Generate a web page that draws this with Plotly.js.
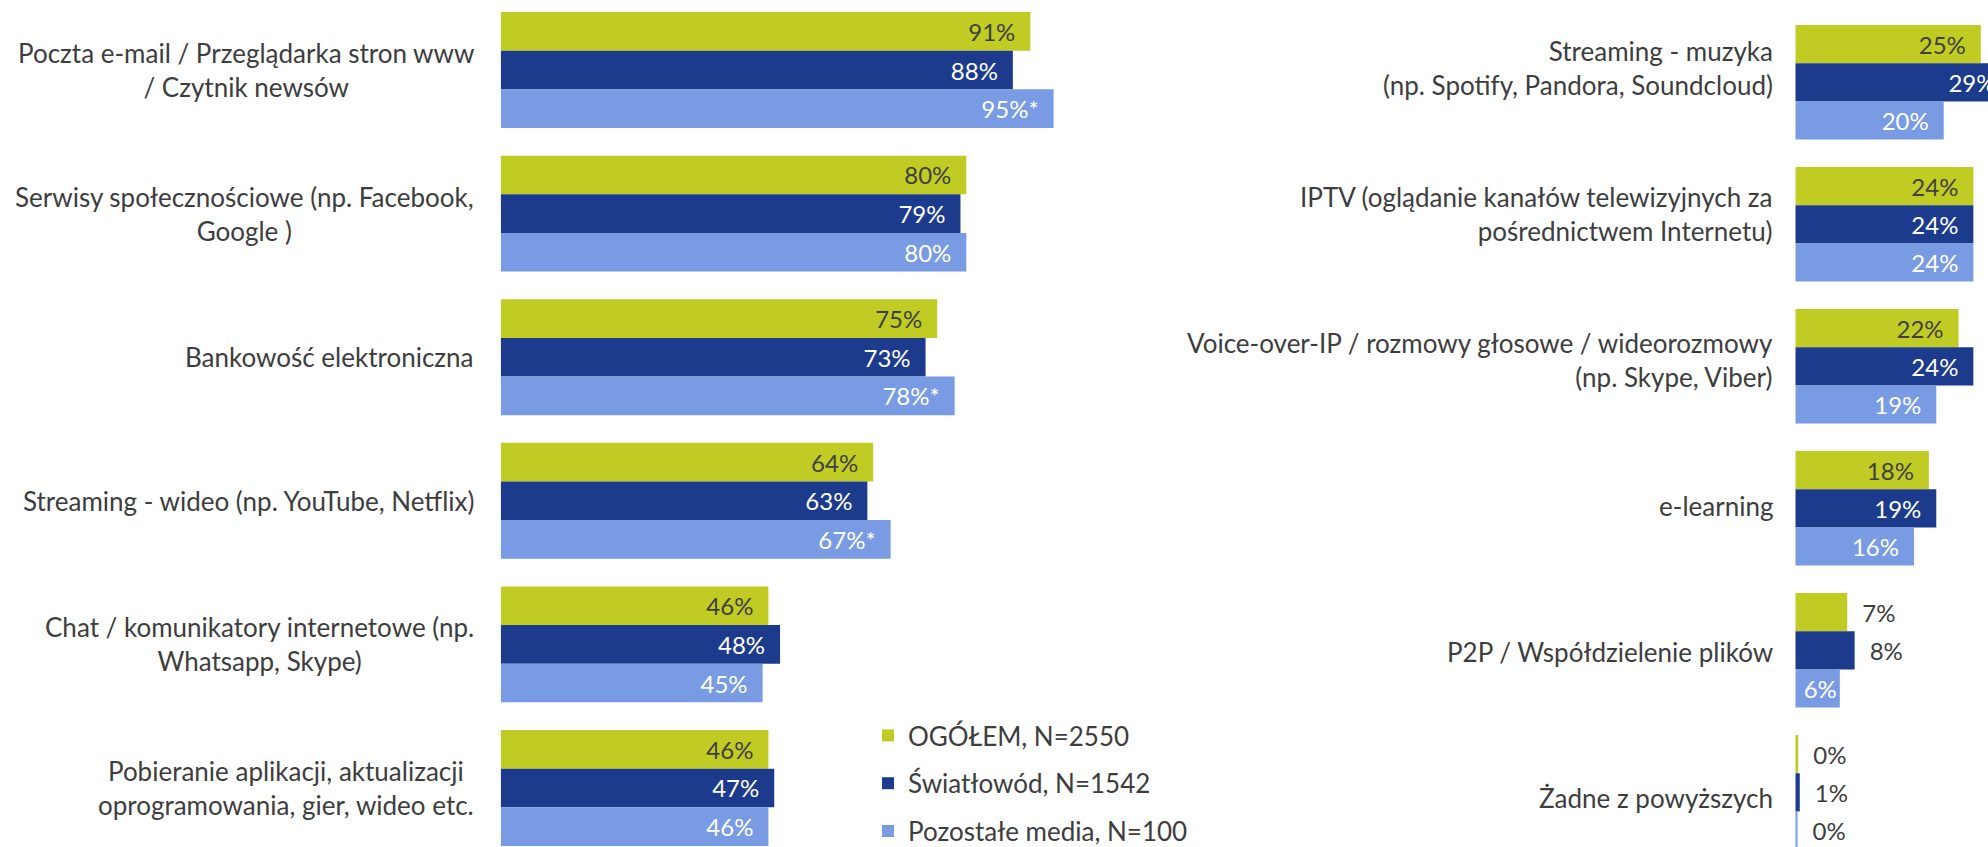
<!DOCTYPE html>
<html>
<head>
<meta charset="utf-8">
<script src="https://cdn.plot.ly/plotly-3.0.1.min.js"></script>
<style>
  html, body { margin: 0; padding: 0; background: #ffffff; overflow: hidden; }
  #chart { width: 2040px; height: 847px; }
</style>
</head>
<body>
<div id="chart"></div>
<script>
// ---------- DATA ----------
const seriesNames = ["OGÓŁEM, N=2550", "Światłowód, N=1542", "Pozostałe media, N=100"];

const leftCategories = [
  "Poczta e-mail / Przeglądarka stron www<br>/ Czytnik newsów",
  "Serwisy społecznościowe (np. Facebook,<br>Google )",
  "Bankowość elektroniczna",
  "Streaming - wideo (np. YouTube, Netflix)",
  "Chat / komunikatory internetowe (np.<br>Whatsapp, Skype)",
  "Pobieranie aplikacji, aktualizacji<br>oprogramowania, gier, wideo etc."
];
const leftOgolem     = [91, 80, 75, 64, 46, 46];
const leftSwiatlowod = [88, 79, 73, 63, 48, 47];
const leftPozostale  = [95, 80, 78, 67, 45, 46];
const leftPozostaleSignificant = [true, false, true, true, false, false];

const rightCategories = [
  "Streaming - muzyka<br>(np. Spotify, Pandora, Soundcloud)",
  "IPTV (oglądanie kanałów telewizyjnych za<br>pośrednictwem Internetu)",
  "Voice-over-IP / rozmowy głosowe / wideorozmowy<br>(np. Skype, Viber)",
  "e-learning",
  "P2P / Współdzielenie plików",
  "Żadne z powyższych"
];
const rightOgolem     = [25, 24, 22, 18, 7, 0.4];
const rightSwiatlowod = [29, 24, 24, 19, 8, 0.6];
const rightPozostale  = [20, 24, 19, 16, 6, 0.3];

// ---------- STYLE ----------
const colors = ["#c0cb23", "#1d3b8c", "#789be3"];
const insideTextColors = ["#404040", "#ffffff", "#ffffff"];
const labelColor = "#3d3d3d";
const fontFamily = "Lato, 'Open Sans', sans-serif";
const catFontSize = 26;
const valFontSize = 24;
const PAD = "\u2002";

// label placement on the right panel (inside / outside of the bar)
const rightTextPos = [
  ["inside", "inside", "inside", "inside", "outside", "outside"],
  ["inside", "inside", "inside", "inside", "outside", "outside"],
  ["inside", "inside", "inside", "inside", "inside",  "outside"]
];

function labels(values, positions, flags) {
  return values.map((v, i) => {
    const t = Math.round(v) + "%" + (flags && flags[i] ? "*" : "");
    if (positions[i] === "outside") return PAD + t;
    return v >= 10 ? t + PAD : t;
  });
}

const leftSeries = [leftOgolem, leftSwiatlowod, leftPozostale];
const rightSeries = [rightOgolem, rightSwiatlowod, rightPozostale];

const traces = [];
leftSeries.forEach((vals, s) => {
  const pos = vals.map(() => "inside");
  traces.push({
    type: "bar", orientation: "h",
    name: seriesNames[s], legendgroup: "g" + s,
    x: vals, y: leftCategories,
    xaxis: "x", yaxis: "y",
    marker: { color: colors[s] },
    text: labels(vals, pos, s === 2 ? leftPozostaleSignificant : null),
    textposition: pos,
    insidetextanchor: "end",
    constraintext: "none",
    insidetextfont: { family: fontFamily, size: valFontSize, color: insideTextColors[s] },
    outsidetextfont: { family: fontFamily, size: valFontSize, color: labelColor },
    hoverinfo: "x+y+name",
    showlegend: true
  });
});
rightSeries.forEach((vals, s) => {
  const pos = rightTextPos[s];
  traces.push({
    type: "bar", orientation: "h",
    name: seriesNames[s], legendgroup: "g" + s,
    x: vals, y: rightCategories,
    xaxis: "x2", yaxis: "y2",
    marker: { color: colors[s] },
    text: labels(vals, pos, null),
    textposition: pos,
    insidetextanchor: "end",
    constraintext: "none",
    cliponaxis: false,
    insidetextfont: { family: fontFamily, size: valFontSize, color: insideTextColors[s] },
    outsidetextfont: { family: fontFamily, size: valFontSize, color: labelColor },
    hoverinfo: "x+y+name",
    showlegend: false
  });
});

const W = 2040, H = 847;
const leftDomain = [500.7 / W, 0.6];
const rightDomain = [1795.3 / W, 1.0];
const leftPxPerPct = 5.82, rightPxPerPct = 7.42;

const annotations = [];
leftCategories.forEach(c => annotations.push({
  text: c, xref: "paper", x: 476 / W, xanchor: "right",
  yref: "y", y: c, yanchor: "middle", align: "center", showarrow: false,
  font: { family: fontFamily, size: catFontSize, color: labelColor }
}));
rightCategories.forEach((c, i) => annotations.push({
  text: c, xref: "paper", x: 1775 / W, xanchor: "right",
  yref: "y3", y: i, yanchor: "middle", align: "right", showarrow: false,
  font: { family: fontFamily, size: catFontSize, color: labelColor }
}));

const layout = {
  width: W, height: H,
  margin: { l: 0, r: 0, t: 0, b: 0, pad: 0, autoexpand: false },
  paper_bgcolor: "#ffffff", plot_bgcolor: "rgba(0,0,0,0)",
  barmode: "group", bargap: 0.193, bargroupgap: 0,
  font: { family: fontFamily, size: catFontSize, color: labelColor },
  xaxis: { domain: leftDomain, range: [0, (leftDomain[1] - leftDomain[0]) * W / leftPxPerPct],
           visible: false, fixedrange: true },
  yaxis: { domain: [0, 1], type: "category", categoryorder: "array", categoryarray: leftCategories,
           range: [5.411, -0.4875], autorange: false, visible: false, anchor: "x", fixedrange: true },
  xaxis2: { domain: rightDomain, range: [0, (rightDomain[1] - rightDomain[0]) * W / rightPxPerPct],
            visible: false, anchor: "y2", fixedrange: true },
  yaxis2: { domain: [0, 1], type: "category", categoryorder: "array", categoryarray: rightCategories,
            range: [5.385, -0.5796], autorange: false, visible: false, anchor: "x2", fixedrange: true },
  yaxis3: { domain: [0, 1], type: "linear", range: [5.3354, -0.462], autorange: false,
            visible: false, anchor: "x2", overlaying: "y2", fixedrange: true },
  showlegend: true,
  legend: {
    x: 868 / W, xanchor: "left", y: 1 - 712 / H, yanchor: "top",
    traceorder: "grouped", tracegroupgap: 11,
    font: { family: fontFamily, size: catFontSize, color: labelColor },
    bgcolor: "rgba(0,0,0,0)", borderwidth: 0
  },
  annotations: annotations
};

Plotly.newPlot("chart", traces, layout, { displayModeBar: false, staticPlot: true });
</script>
</body>
</html>
